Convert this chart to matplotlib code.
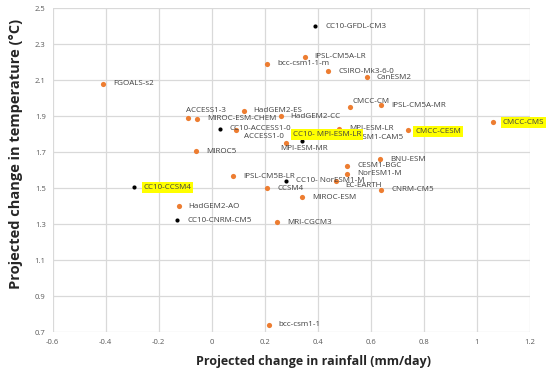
import matplotlib.pyplot as plt

# CMIP5 models (orange)
gcm_names = ['FGOALS-s2', 'bcc-csm1-1-m', 'IPSL-CM5A-LR', 'CSIRO-Mk3-6-0', 'CanESM2',
             'ACCESS1-3', 'MIROC-ESM-CHEM', 'HadGEM2-ES', 'HadGEM2-CC', 'CMCC-CM',
             'IPSL-CM5A-MR', 'ACCESS1-0', 'MPI-ESM-LR', 'CESM1-CAM5', 'CMCC-CESM',
             'CMCC-CMS', 'MPI-ESM-MR', 'MIROC5', 'BNU-ESM', 'CESM1-BGC', 'NorESM1-M',
             'IPSL-CM5B-LR', 'EC-EARTH', 'CCSM4', 'CNRM-CM5', 'MIROC-ESM',
             'HadGEM2-AO', 'MRI-CGCM3', 'bcc-csm1-1']
gcm_rain = [-0.41, 0.21, 0.35, 0.44, 0.585,
            -0.09, -0.055, 0.12, 0.26, 0.52,
            0.64, 0.09, 0.48, 0.49, 0.74,
            1.06, 0.28, -0.06, 0.635, 0.51, 0.51,
            0.08, 0.47, 0.21, 0.64, 0.34,
            -0.125, 0.245, 0.215]
gcm_temp = [2.08, 2.19, 2.23, 2.15, 2.115,
            1.89, 1.885, 1.93, 1.90, 1.95,
            1.96, 1.82, 1.83, 1.79, 1.82,
            1.865, 1.75, 1.705, 1.66, 1.625, 1.58,
            1.565, 1.54, 1.50, 1.49, 1.45,
            1.40, 1.31, 0.74]

# CC10 downscaled runs (black)
cc10_names = ['CC10-GFDL-CM3', 'CC10-ACCESS1-0', 'CC10- MPI-ESM-LR', 'CC10- NorESM1-M',
              'CC10-CCSM4', 'CC10-CNRM-CM5']
cc10_rain = [0.39, 0.03, 0.34, 0.28, -0.295, -0.13]
cc10_temp = [2.40, 1.83, 1.76, 1.54, 1.505, 1.32]

highlighted = ['CC10-CCSM4', 'CC10- MPI-ESM-LR', 'CMCC-CESM', 'CMCC-CMS']

# label offsets in pixels (default is to the right of the point)
offsets = {
    'ACCESS1-3': (-2, 7),
    'CC10- MPI-ESM-LR': (-9, 7),
    'MPI-ESM-MR': (-6, -5),
    'CMCC-CM': (3, 6),
    'EC-EARTH': (9, -5),
    'ACCESS1-0': (8, -6),
    'CESM1-CAM5': (12, -2),
    'CMCC-CESM': (7, -1),
}

plt.rcParams['font.family'] = ['Open Sans', 'DejaVu Sans']

fig = plt.figure(figsize=(5.5, 3.71), dpi=100)
ax = fig.add_axes([0.0958, 0.1051, 0.8678, 0.8733])

ax.scatter(gcm_rain, gcm_temp, s=14, color='#ED7D31', zorder=3, linewidths=0)
ax.scatter(cc10_rain, cc10_temp, s=9, color='black', zorder=4, linewidths=0)

for names, xs, ys in [(gcm_names, gcm_rain, gcm_temp), (cc10_names, cc10_rain, cc10_temp)]:
    for name, x, y in zip(names, xs, ys):
        dx, dy = offsets.get(name, (10, 0))
        box = None
        if name in highlighted:
            box = dict(boxstyle='square,pad=0.25', fc='#FFFF00', ec='none')
        ax.annotate(name, (x, y), xytext=(dx, dy), textcoords='offset pixels',
                    ha='left', va='center', fontsize=5.8, color='#404040',
                    bbox=box, zorder=5, annotation_clip=False)

ax.set_xlim(-0.6, 1.2)
ax.set_ylim(0.7, 2.5)
ax.set_xticks([-0.6, -0.4, -0.2, 0, 0.2, 0.4, 0.6, 0.8, 1.0, 1.2])
ax.set_xticklabels(['-0.6', '-0.4', '-0.2', '0', '0.2', '0.4', '0.6', '0.8', '1', '1.2'])
ax.set_yticks([0.7, 0.9, 1.1, 1.3, 1.5, 1.7, 1.9, 2.1, 2.3, 2.5])
ax.set_yticklabels(['0.7', '0.9', '1.1', '1.3', '1.5', '1.7', '1.9', '2.1', '2.3', '2.5'])
ax.tick_params(length=0, labelsize=5.5, labelcolor='#595959', pad=5)
ax.grid(True, color='#D9D9D9', linewidth=0.9)
ax.set_axisbelow(True)
for s in ax.spines.values():
    s.set_visible(False)

ax.set_xlabel('Projected change in rainfall (mm/day)', fontsize=9, fontweight='bold',
              color='#262626')
ax.set_ylabel('Projected change in temperature (\u00b0C)', fontsize=10.5, fontweight='bold',
              color='#262626')
ax.xaxis.set_label_coords(0.547, -0.072)
ax.yaxis.set_label_coords(-0.062, 0.55)

fig.savefig('out.png', dpi=100)
